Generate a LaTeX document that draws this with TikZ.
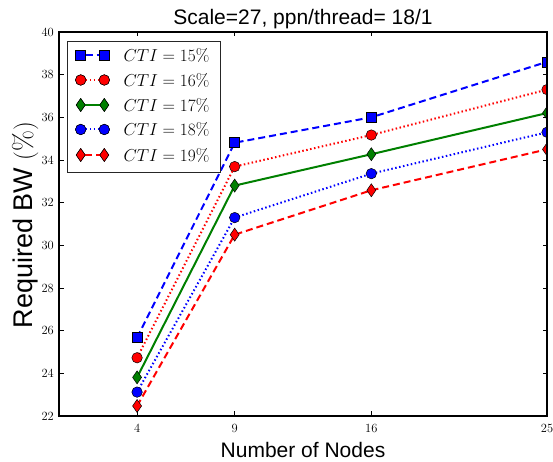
\documentclass[tikz,border=0pt]{standalone}
\usepackage{fontspec}
\newfontfamily\labelfont{Liberation Sans}
\usetikzlibrary{shapes.geometric}
\begin{document}
\begin{tikzpicture}[x=1pt,y=1pt,
  mk/.style={draw=black, line width=0.5pt, inner sep=0pt, outer sep=0pt},
  sqmark/.style={mk, rectangle, minimum size=10pt},
  circmark/.style={mk, circle, minimum size=10.5pt},
  diamark/.style={mk, diamond, minimum width=9pt, minimum height=13pt},
  serA/.style={blue, line width=2pt, dash pattern=on 7pt off 4pt},
  serB/.style={red, line width=2pt, dash pattern=on 1.5pt off 2.5pt},
  serC/.style={green!50!black, line width=2pt},
  serD/.style={blue, line width=2pt, dash pattern=on 1.5pt off 2.5pt},
  serE/.style={red, line width=2pt, dash pattern=on 7pt off 4pt},
  ticklab/.style={font=\fontsize{12.5}{14}\selectfont, inner sep=0pt},
  axlab/.style={font=\labelfont\fontsize{21}{24}\selectfont, inner sep=0pt},
  ylab/.style={font=\labelfont\fontsize{27}{30}\selectfont, inner sep=0pt},
  legtext/.style={font=\fontsize{17.5}{20}\selectfont, inner sep=0pt, anchor=west},
  tickmark/.style={line width=0.8pt, black}
]
\useasboundingbox (0,0) rectangle (553,462);

% data frame: x from 0 to 25, y from 22 to 40
\begin{scope}[shift={(59pt,-423.333pt)}, x=19.52pt, y=21.3333pt]
  \coordinate (ll) at (0,22);
  \coordinate (ur) at (25,40);
  % series coordinates
  \coordinate (a1) at (4,25.67); \coordinate (a2) at (9,34.81);
  \coordinate (a3) at (16,36.0); \coordinate (a4) at (25,38.6);
  \coordinate (b1) at (4,24.73); \coordinate (b2) at (9,33.69);
  \coordinate (b3) at (16,35.17); \coordinate (b4) at (25,37.3);
  \coordinate (c1) at (4,23.81); \coordinate (c2) at (9,32.8);
  \coordinate (c3) at (16,34.27); \coordinate (c4) at (25,36.2);
  \coordinate (d1) at (4,23.12); \coordinate (d2) at (9,31.3);
  \coordinate (d3) at (16,33.36); \coordinate (d4) at (25,35.3);
  \coordinate (e1) at (4,22.47); \coordinate (e2) at (9,30.5);
  \coordinate (e3) at (16,32.58); \coordinate (e4) at (25,34.5);

  \begin{scope}
    \clip (ll) rectangle (ur);
    \draw[serA] (a1) -- (a2) -- (a3) -- (a4);
    \foreach \i in {1,...,4} \node[sqmark, fill=blue] (ma\i) at (a\i) {};
    \draw[serB] (b1) -- (b2) -- (b3) -- (b4);
    \foreach \i in {1,...,4} \node[circmark, fill=red] (mb\i) at (b\i) {};
    \draw[serC] (c1) -- (c2) -- (c3) -- (c4);
    \foreach \i in {1,...,4} \node[diamark, fill=green!50!black] (mc\i) at (c\i) {};
    \draw[serD] (d1) -- (d2) -- (d3) -- (d4);
    \foreach \i in {1,...,4} \node[circmark, fill=blue] (md\i) at (d\i) {};
    \draw[serE] (e1) -- (e2) -- (e3) -- (e4);
    \foreach \i in {1,...,4} \node[diamark, fill=red] (me\i) at (e\i) {};
  \end{scope}

  % ticks and tick labels
  \foreach \v in {22,24,...,40} {
    \draw[tickmark] (0,\v) -- ++(4.5pt,0);
    \draw[tickmark] (25,\v) -- ++(-4.5pt,0);
    \node[ticklab, anchor=east] (yl\v) at ([xshift=-5pt]0,\v) {\v};
  }
  \foreach \v in {4,9,16,25} {
    \draw[tickmark] (\v,22) -- ++(0,4.5pt);
    \draw[tickmark] (\v,40) -- ++(0,-4.5pt);
    \node[ticklab, anchor=base] (xl\v) at ([yshift=-17pt]\v,22) {\v};
  }
  \draw[line width=1.2pt] (ll) rectangle (ur);
\end{scope}

% title and axis labels
\node[axlab, anchor=base] (title) at (303,437) {Scale=27, ppn/thread= 18/1};
\node[axlab, anchor=base] (xlabel) at (303,4) {Number of Nodes};
\node[ylab, rotate=90] (ylabel) at (25,237) {Required BW $(\%)$};

% legend
\draw[line width=0.9pt, draw=black!85, fill=white] (67,289.3) rectangle (220.7,421);
\foreach \n/\y/\sty/\shp/\col/\pct in {
    A/407/serA/sqmark/blue/15,
    B/382/serB/circmark/red/16,
    C/357/serC/diamark/green!50!black/17,
    D/332.5/serD/circmark/blue/18,
    E/307/serE/diamark/red/19} {
  \node[\shp, fill=\col] (lm\n1) at (80.7,\y) {};
  \node[\shp, fill=\col] (lm\n2) at (104.3,\y) {};
  \draw[\sty] (lm\n1) -- (lm\n2);
  \node[\shp, fill=\col] at (lm\n1) {};
  \node[\shp, fill=\col] at (lm\n2) {};
  \node[legtext] (lt\n) at (123.3,\y) {$CTI = \pct\%$};
}
\end{tikzpicture}
\end{document}
